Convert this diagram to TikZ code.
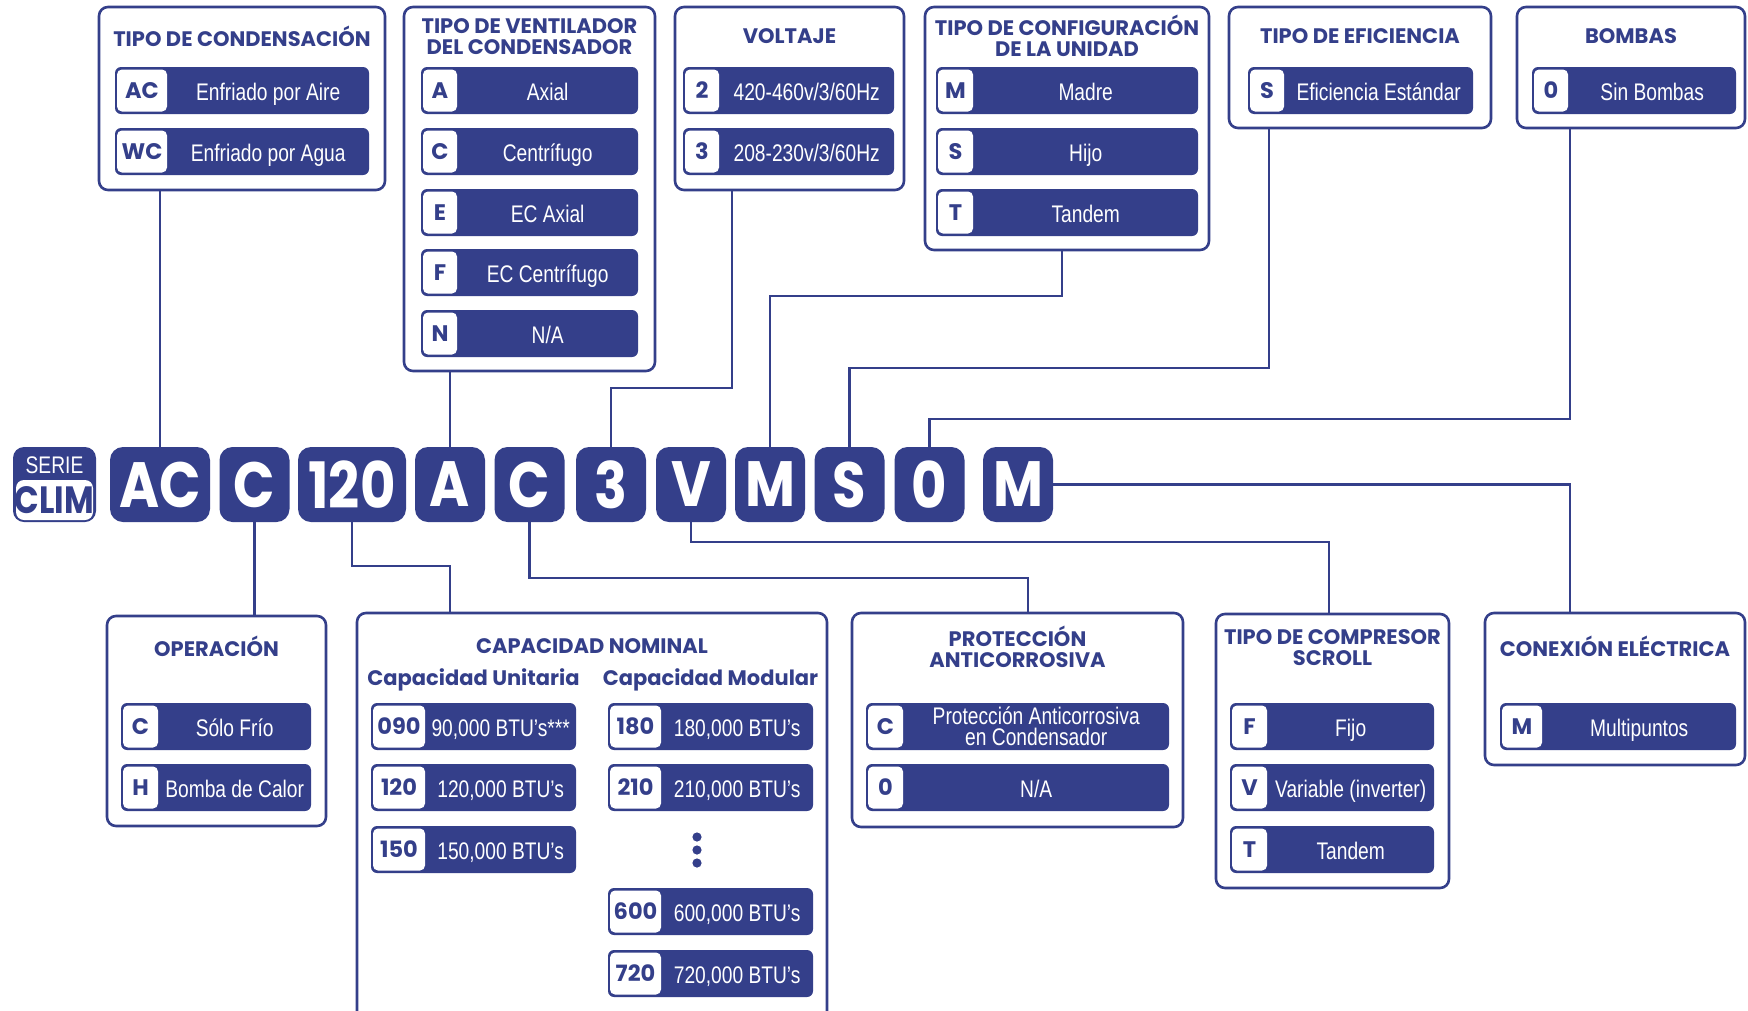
\documentclass[tikz,border=0pt]{standalone}
\usepackage{fontspec}
\setmainfont{Liberation Sans}
\newfontfamily\headfont{Poppins}
\newfontfamily\codefont[FakeStretch=0.85]{Poppins}
\newfontfamily\optfont[FakeStretch=0.8]{Liberation Sans}
\usepackage{tikz}
\definecolor{climblue}{RGB}{52,63,138}
\tikzset{
    cat/.style={draw=climblue, line width=2.6pt, rounded corners=9pt, fill=white, inner sep=0pt},
    code/.style={fill=climblue, rounded corners=13pt, text=white, minimum height=75pt, inner sep=0pt, font=\codefont\bfseries\fontsize{64}{64}\selectfont},
    bar/.style={fill=climblue, rounded corners=6pt, minimum height=47pt, inner sep=0pt},
    key/.style={fill=white, rounded corners=5pt, minimum height=42pt, inner sep=0pt, text=climblue, font=\headfont\bfseries\fontsize{22.5}{22.5}\selectfont},
    opt/.style={text=white, inner sep=0pt, align=center, yshift=-2pt, font=\optfont\fontsize{24}{21}\selectfont,
        execute at begin node=\vphantom{Á}, execute at end node=\vphantom{p}},
    ttl/.style={text=climblue, inner sep=0pt, align=center, font=\headfont\bfseries\fontsize{21}{21}\selectfont},
    link/.style={draw=climblue, line width=2.4pt}
}
\newcommand{\catBox}[5]{
    \node[cat, minimum width={#4-#2}, minimum height={#5-#3}] (#1) at ({(#2+#4)/2}, {(#3+#5)/2}) {}
}
\newcommand{\optBar}[7]{
    \node[bar, minimum width={#3-#2}] (#1) at ({(#2+#3)/2}, {#4+23.5}) {};
    \node[key, minimum width=#5, anchor=west] (#1k) at ([xshift=2pt]#1.west) {#6};
    \path (#1k.east) -- (#1.east) node[opt, midway] (#1t) {#7}
}

\begin{document}
\begin{tikzpicture}[x=1pt, y=-1pt]
    \useasboundingbox (0, 0) rectangle (1748, 1010);
    \fill[white] (0, 0) rectangle (1748, 1010);

    \catBox{cond}{99}{7}{385}{190};
    \catBox{vent}{404}{7}{655}{371};
    \catBox{volt}{675}{7}{904}{190};
    \catBox{conf}{925}{7}{1209}{250};
    \catBox{efic}{1229}{7}{1491}{128};
    \catBox{bomb}{1517}{7}{1745}{128};
    \catBox{oper}{107}{616}{326}{826};
    \catBox{capa}{357}{613}{827}{1024};
    \catBox{prot}{852}{613}{1183}{827};
    \catBox{comp}{1216}{614}{1449}{888};
    \catBox{conx}{1485}{613}{1745}{765};

    \node[ttl] (condT) at ([yshift=-31pt]cond.north) {TIPO DE CONDENSACIÓN};
    \node[ttl] (ventT) at ([yshift=-30.5pt]vent.north) {TIPO DE VENTILADOR\\DEL CONDENSADOR};
    \node[ttl] (voltT) at ([yshift=-30pt]volt.north) {VOLTAJE};
    \node[ttl] (confT) at ([yshift=-30.5pt]conf.north) {TIPO DE CONFIGURACIÓN\\DE LA UNIDAD};
    \node[ttl] (eficT) at ([yshift=-30pt]efic.north) {TIPO DE EFICIENCIA};
    \node[ttl] (bombT) at ([yshift=-30pt]bomb.north) {BOMBAS};
    \node[ttl] (operT) at ([yshift=-32pt]oper.north) {OPERACIÓN};
    \node[ttl] (capaT) at ([yshift=-34pt]capa.north) {CAPACIDAD NOMINAL};
    \node[ttl] (capaU) at (473.5, 680) {Capacidad Unitaria};
    \node[ttl] (capaM) at (710.5, 680) {Capacidad Modular};
    \node[ttl] (protT) at ([yshift=-35pt]prot.north) {PROTECCIÓN\\ANTICORROSIVA};
    \node[ttl] (compT) at ([yshift=-34.5pt]comp.north) {TIPO DE COMPRESOR\\SCROLL};
    \node[ttl] (conxT) at ([yshift=-35pt]conx.north) {CONEXIÓN ELÉCTRICA};

    \optBar{condAC}{115}{369}{67}{50}{AC}{Enfriado por Aire};
    \optBar{condWC}{115}{369}{128}{50}{WC}{Enfriado por Agua};
    \optBar{ventA}{421}{638}{67}{34}{A}{Axial};
    \optBar{ventC}{421}{638}{128}{34}{C}{Centrífugo};
    \optBar{ventE}{421}{638}{189}{34}{E}{EC Axial};
    \optBar{ventF}{421}{638}{249}{34}{F}{EC Centrífugo};
    \optBar{ventN}{421}{638}{310}{34}{N}{N/A};
    \optBar{volt2}{683}{894}{67}{34}{2}{420-460v/3/60Hz};
    \optBar{volt3}{683}{894}{128}{34}{3}{208-230v/3/60Hz};
    \optBar{confM}{936}{1198}{67}{35}{M}{Madre};
    \optBar{confS}{936}{1198}{128}{35}{S}{Hijo};
    \optBar{confT}{936}{1198}{189}{35}{T}{Tandem};
    \optBar{eficS}{1248}{1473}{67}{34}{S}{Eficiencia Estándar};
    \optBar{bomb0}{1532}{1736}{67}{34}{0}{Sin Bombas};
    \optBar{operC}{121}{311}{703}{35}{C}{Sólo Frío};
    \optBar{operH}{121}{311}{764}{35}{H}{Bomba de Calor};
    \optBar{capa090}{371}{576}{703}{52}{090}{90,000 BTU’s***};
    \optBar{capa120}{371}{576}{764}{52}{120}{120,000 BTU’s};
    \optBar{capa150}{371}{576}{826}{52}{150}{150,000 BTU’s};
    \optBar{capa180}{608}{813}{703}{51}{180}{180,000 BTU’s};
    \optBar{capa210}{608}{813}{764}{51}{210}{210,000 BTU’s};
    \optBar{capa600}{608}{813}{888}{51}{600}{600,000 BTU’s};
    \optBar{capa720}{608}{813}{950}{51}{720}{720,000 BTU’s};
    \foreach \y in {837, 850, 863} \fill[climblue] (697, \y) circle (4.6pt);
    \optBar{protC}{866}{1169}{703}{35}{C}{Protección Anticorrosiva\\en Condensador};
    \optBar{prot0}{866}{1169}{764}{35}{0}{N/A};
    \optBar{compF}{1230}{1434}{703}{35}{F}{Fijo};
    \optBar{compV}{1230}{1434}{764}{35}{V}{Variable (inverter)};
    \optBar{compT}{1230}{1434}{826}{35}{T}{Tandem};
    \optBar{conxM}{1500}{1736}{703}{40}{M}{Multipuntos};

    \node[code, minimum width=83, rounded corners=11pt] (serie) at (54.5, 484.5) {};
    \node[fill=white, rounded corners=8pt, minimum width=77, minimum height=40, inner sep=0pt] (climBox) at (54.5, 500) {};
    \node[text=white, inner sep=0pt, font=\optfont\fontsize{24}{24}\selectfont] (serieT) at (54.5, 465) {SERIE};
    \node[text=climblue, inner sep=0pt, font=\codefont\bfseries\fontsize{38}{38}\selectfont] (climT) at (54.5, 500) {CLIM};
    \foreach \n/\x/\w/\t in {kAC/160/100/AC, kCa/254.5/70/C, k120/352/108/120, kA/450/70/A, kCb/529.5/70/C, k3/611/70/3, kV/691/70/V, kMa/770/70/M, kS/849.5/70/S, k0/929.5/70/0, kMb/1018/70/M}
        \node[code, minimum width=\w] (\n) at (\x, 484.5) {\t};

    \coordinate (voltJ) at (732, 388);
    \coordinate (confJ) at (1062, 296);
    \coordinate (eficJ) at (1269, 368);
    \coordinate (bombJ) at (1570, 419);
    \coordinate (capaJ) at (450, 566);
    \coordinate (protJ) at (1028, 578);
    \coordinate (compJ) at (1329, 542);
    \coordinate (conxJ) at (1570, 484.5);
    \draw[link] (kAC.north) -- (kAC.north |- cond.south);
    \draw[link] (kA.north) -- (kA.north |- vent.south);
    \draw[link] (k3.north) |- (voltJ) -- (voltJ |- volt.south);
    \draw[link] (kMa.north) |- (confJ) -- (confJ |- conf.south);
    \draw[link] (kS.north) |- (eficJ) -- (eficJ |- efic.south);
    \draw[link] (k0.north) |- (bombJ) -- (bombJ |- bomb.south);
    \draw[link] (kCa.south) -- (kCa.south |- oper.north);
    \draw[link] (k120.south) |- (capaJ) -- (capaJ |- capa.north);
    \draw[link] (kCb.south) |- (protJ) -- (protJ |- prot.north);
    \draw[link] (kV.south) |- (compJ) -- (compJ |- comp.north);
    \draw[link] (kMb.east) -- (conxJ) -- (conxJ |- conx.north);
\end{tikzpicture}
\end{document}
